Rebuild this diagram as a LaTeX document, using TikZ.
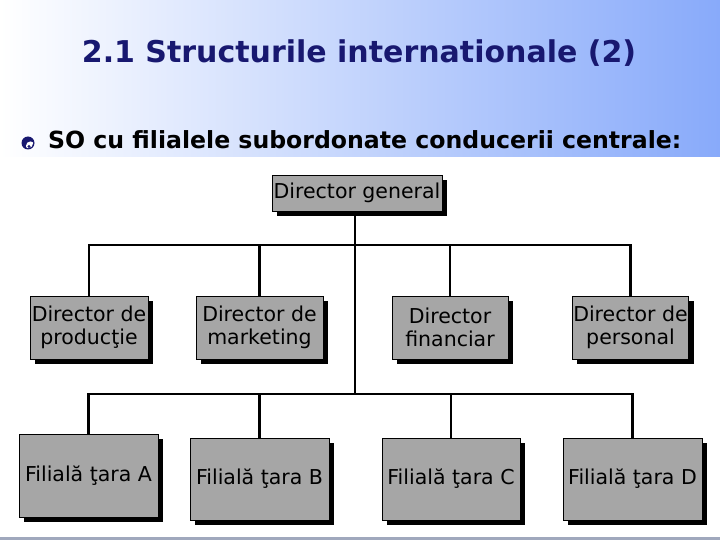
\documentclass[tikz,border=0pt]{standalone}
\usepackage{fontspec}
\setmainfont{DejaVu Sans}
\usetikzlibrary{shadows}
\definecolor{boxgray}{RGB}{166,166,166}
\definecolor{navy}{RGB}{24,24,112}
\definecolor{slideblue}{RGB}{136,170,250}
\definecolor{slidemid}{RGB}{214,224,252}
\begin{document}
\begin{tikzpicture}[x=1pt,y=-1pt,
  box/.style={draw=black, line width=0.8pt, fill=boxgray, align=center,
    inner sep=1pt, font=\fontsize{20.5}{23}\selectfont,
    drop shadow={shadow xshift=5pt, shadow yshift=-5pt, fill=black, opacity=1}},
  conn/.style={draw=black, line width=2.6pt}]
\useasboundingbox (0,0) rectangle (720,540);
% background
\shade[left color=white, middle color=slidemid, right color=slideblue] (0,0) rectangle (720,540);
\fill[white] (0,157) rectangle (720,537);
\fill[black!25!slidemid] (0,537) rectangle (720,540);
% title
\node[text=navy, font=\bfseries\fontsize{30}{34}\selectfont, anchor=base, inner sep=0pt] (title) at (359,63) {2.1 Structurile internationale (2)};
% bullet globe
\fill[navy] (28,143) circle (6.5);
\begin{scope}
\clip (28,143) circle (5.2);
\fill[white] (30.5,146) circle (4.6);
\fill[navy] (29,146.5) circle (1.6);
\end{scope}
\node[anchor=base west, font=\bfseries\fontsize{23.6}{27}\selectfont, inner sep=0pt] (sub) at (48,149) {SO cu filialele subordonate conducerii centrale:};
% boxes
\node[box, minimum width=170pt, minimum height=36pt] (DG) at (357,193) {Director general};
\node[box, minimum width=118pt, minimum height=63pt] (P1) at (89,327.5) {Director de\\producţie};
\node[box, minimum width=127pt, minimum height=63pt] (P2) at (259.5,327.5) {Director de\\marketing};
\node[box, minimum width=116pt, minimum height=63pt] (P3) at (450,327.5) {Director\\financiar};
\node[box, minimum width=115pt, minimum height=63pt] (P4) at (630.5,327.5) {Director de\\personal};
\node[box, minimum width=139pt, minimum height=83pt] (FA) at (88.5,475.5) {Filială ţara A};
\node[box, minimum width=139pt, minimum height=82pt] (FB) at (259.5,479) {Filială ţara B};
\node[box, minimum width=138pt, minimum height=82pt] (FC) at (451,479) {Filială ţara C};
\node[box, minimum width=139pt, minimum height=82pt] (FD) at (632.5,479) {Filială ţara D};
% connectors
\coordinate (bus1) at (355,245);
\coordinate (bus2) at (355,394);
\draw[conn] (DG.south -| bus1) -- (bus2);
\draw[conn] (P1.north) -- (P1.north |- bus1) -- (P4.north |- bus1) -- (P4.north);
\draw[conn] (P2.north) -- (P2.north |- bus1);
\draw[conn] (P3.north) -- (P3.north |- bus1);
\draw[conn] (FA.north) -- (FA.north |- bus2) -- (FD.north |- bus2) -- (FD.north);
\draw[conn] (FB.north) -- (FB.north |- bus2);
\draw[conn] (FC.north) -- (FC.north |- bus2);
\end{tikzpicture}
\end{document}
